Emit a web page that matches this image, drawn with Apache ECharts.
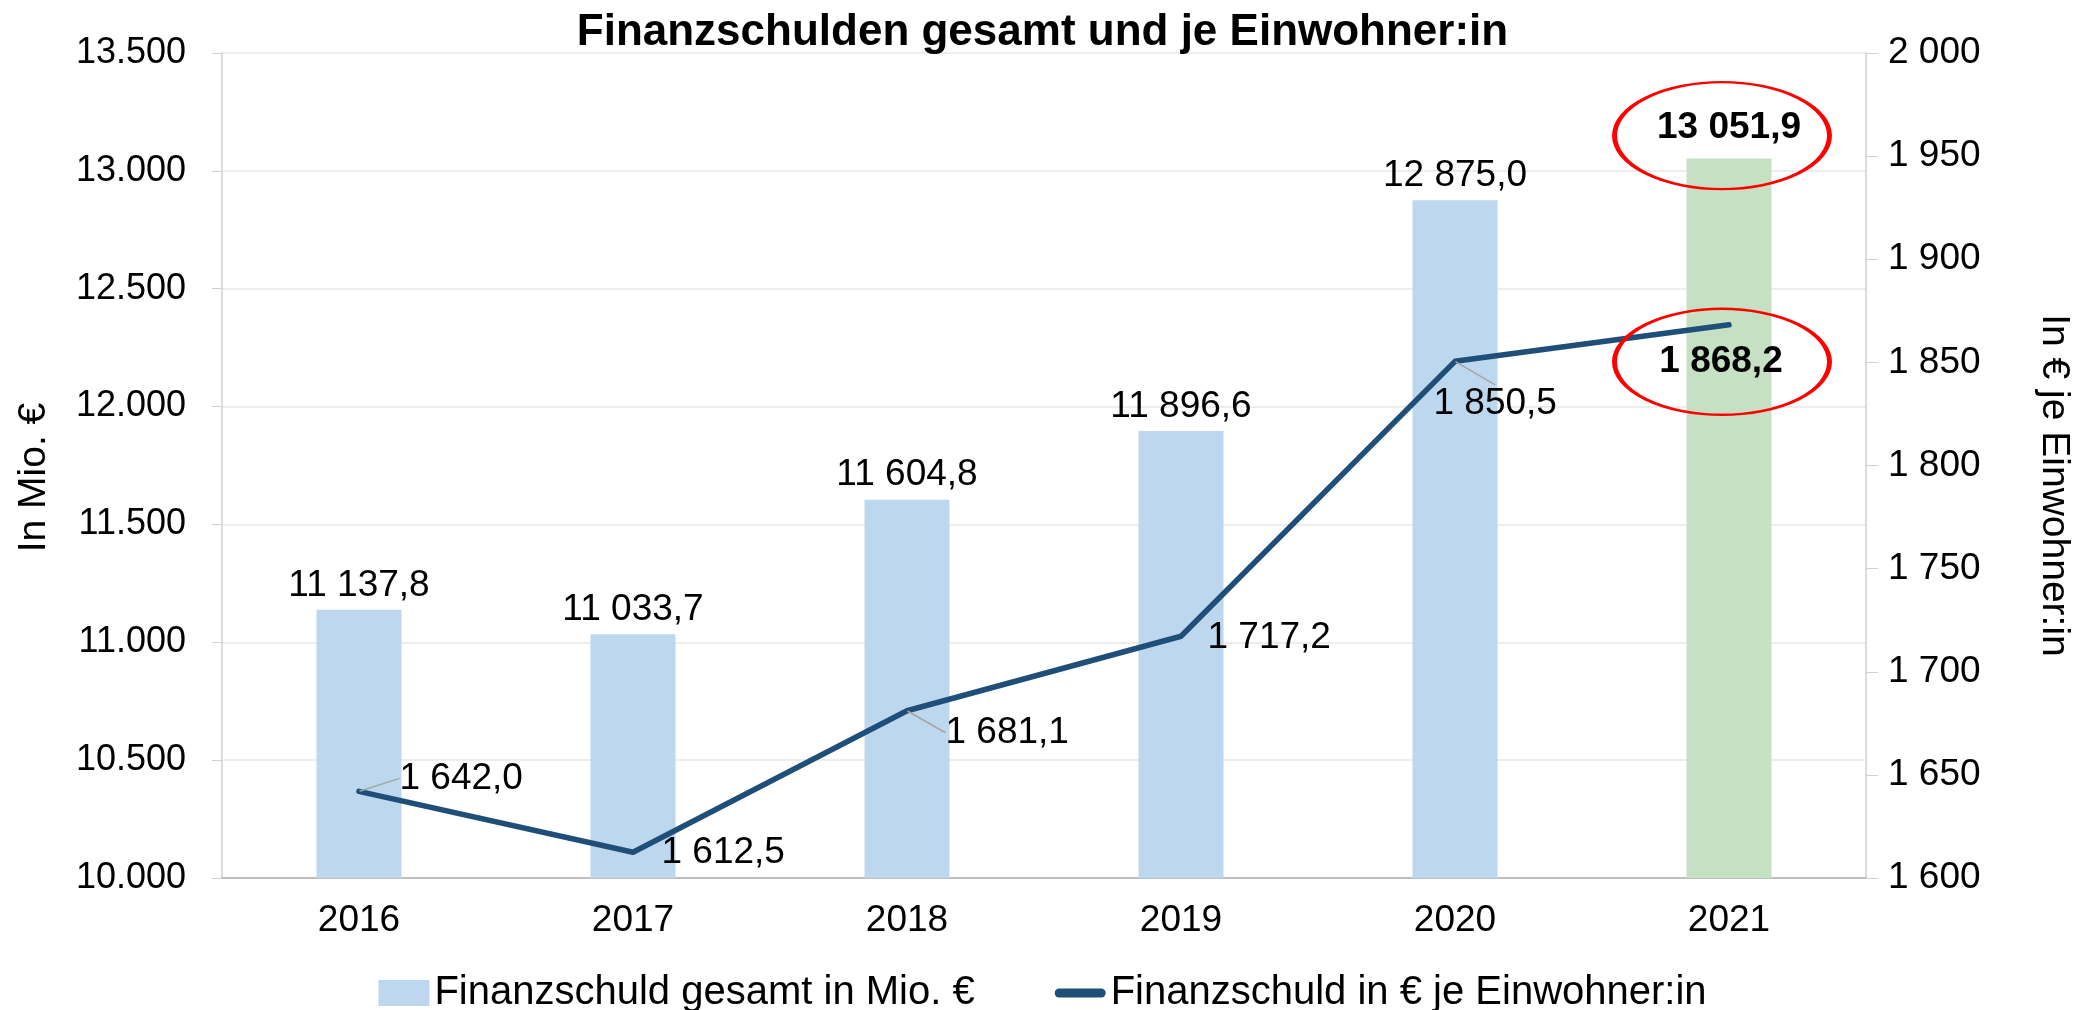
<!DOCTYPE html>
<html>
<head>
<meta charset="utf-8">
<script src="https://cdn.jsdelivr.net/npm/echarts@6/dist/echarts.min.js"></script>
<style>
html,body{margin:0;padding:0;background:#fff;}
#chart{width:2085px;height:1010px;}
</style>
</head>
<body>
<div id="chart"></div>
<script>
const categories = ['2016', '2017', '2018', '2019', '2020', '2021'];
const totalDebt = [11137.8, 11033.7, 11604.8, 11896.6, 12875.0, 13051.9];
const debtPerCapita = [1642.0, 1612.5, 1681.1, 1717.2, 1850.5, 1868.2];
const seriesNames = ['Finanzschuld gesamt in Mio. €', 'Finanzschuld in € je Einwohner:in'];
const titleText = 'Finanzschulden gesamt und je Einwohner:in';
const leftAxisName = 'In Mio. €';
const rightAxisName = 'In € je Einwohner:in';

const FONT = 'Liberation Sans';

function groupThousands(intStr, sep) {
  return intStr.replace(/\B(?=(\d{3})+(?!\d))/g, sep);
}
function fmtValue(v) {
  const parts = v.toFixed(1).split('.');
  return groupThousands(parts[0], ' ') + ',' + parts[1];
}

const lastIdx = categories.length - 1;
const lineLabelShift = [[35, -13], [23, 1], [33, 22], [21, 2], [-27, 42], [-8, 13]];
const withLeader = [true, false, true, false, true, false];

const barData = totalDebt.map((v, i) => {
  const item = { value: v };
  if (i === lastIdx) {
    item.itemStyle = { color: '#C5E0C3' };
    item.label = { fontWeight: 'bold', distance: 12 };
  }
  return item;
});

const lineData = debtPerCapita.map((v, i) => {
  const item = { value: v, labelLine: { show: withLeader[i] } };
  if (i === lastIdx) {
    item.label = { position: 'bottom', fontWeight: 'bold' };
  }
  return item;
});

const chart = echarts.init(document.getElementById('chart'), null, { renderer: 'canvas' });
chart.setOption({
  animation: false,
  backgroundColor: '#ffffff',
  textStyle: { fontFamily: FONT },
  title: {
    text: titleText,
    left: 'center',
    top: 6,
    textStyle: { fontFamily: FONT, fontSize: 44, fontWeight: 'bold', color: '#000' }
  },
  grid: { left: 222, right: 219, top: 53, bottom: 132 },
  legend: {
    bottom: -8,
    left: 'center',
    padding: [5, 5, 5, 33],
    itemGap: 80,
    itemWidth: 51,
    itemHeight: 26,
    textStyle: { fontFamily: FONT, fontSize: 40, color: '#000', padding: [0, 0, 0, 0] },
    data: [
      { name: seriesNames[0], icon: 'rect' },
      { name: seriesNames[1], icon: 'path://M4.5,0 H46.5 A4.5,4.5 0 0 1 46.5,9 H4.5 A4.5,4.5 0 0 1 4.5,0 Z' }
    ]
  },
  xAxis: {
    type: 'category',
    data: categories,
    axisLine: { lineStyle: { color: '#BFBFBF', width: 2 } },
    axisTick: { show: false },
    axisLabel: { fontFamily: FONT, fontSize: 37, color: '#000', margin: 24 }
  },
  yAxis: [
    {
      type: 'value',
      min: 10000, max: 13500, interval: 500,
      axisLine: { show: true, lineStyle: { color: '#D0D0D0', width: 1.5 } },
      axisTick: { show: true, length: 10, lineStyle: { color: '#D0D0D0' } },
      axisLabel: {
        fontFamily: FONT, fontSize: 36, color: '#000', margin: 36,
        formatter: v => groupThousands(String(v), '.')
      },
      splitLine: { lineStyle: { color: '#EDEDED', width: 2 } },
      name: leftAxisName,
      nameLocation: 'middle',
      nameGap: 168,
      nameTextStyle: { fontFamily: FONT, fontSize: 39, color: '#000', padding: [0, 24, 0, 0] }
    },
    {
      type: 'value',
      min: 1600, max: 2000, interval: 50,
      axisLine: { show: true, lineStyle: { color: '#D0D0D0', width: 1.5 } },
      axisTick: { show: true, length: 12, lineStyle: { color: '#D0D0D0' } },
      axisLabel: {
        fontFamily: FONT, fontSize: 37, color: '#000', margin: 22,
        formatter: v => groupThousands(String(v), ' ')
      },
      splitLine: { show: false },
      name: rightAxisName,
      nameLocation: 'middle',
      nameRotate: -90,
      nameGap: 168,
      nameTextStyle: { fontFamily: FONT, fontSize: 39, color: '#000', padding: [0, 0, 0, 40] }
    }
  ],
  series: [
    {
      name: seriesNames[0],
      type: 'bar',
      yAxisIndex: 0,
      barWidth: 85,
      data: barData,
      itemStyle: { color: '#BDD7EE' },
      label: {
        show: true, position: 'top', distance: 6,
        fontFamily: FONT, fontSize: 37, color: '#000',
        formatter: p => fmtValue(p.value)
      },
      markPoint: {
        silent: true,
        data: [{
          coord: [categories[lastIdx], totalDebt[lastIdx]],
          symbol: 'circle',
          symbolSize: [215, 107],
          symbolOffset: [-7, -23],
          itemStyle: { color: 'rgba(0,0,0,0)', borderColor: '#FF0000', borderWidth: 3.5 },
          label: { show: false }
        }]
      },
      z: 2
    },
    {
      name: seriesNames[1],
      type: 'line',
      yAxisIndex: 1,
      data: lineData,
      symbol: 'circle',
      symbolSize: 1,
      showSymbol: true,
      itemStyle: { color: '#1F4E79' },
      lineStyle: { color: '#1F4E79', width: 5.5, cap: 'round', join: 'round' },
      label: {
        show: true, position: 'right', distance: 5,
        fontFamily: FONT, fontSize: 37, color: '#000',
        formatter: p => fmtValue(p.value)
      },
      labelLine: { show: false, lineStyle: { color: '#A6A6A6', width: 1.5 } },
      labelLayout: p => ({ dx: lineLabelShift[p.dataIndex][0], dy: lineLabelShift[p.dataIndex][1] }),
      markPoint: {
        silent: true,
        data: [{
          coord: [categories[lastIdx], debtPerCapita[lastIdx]],
          symbol: 'circle',
          symbolSize: [215, 106],
          symbolOffset: [-7, 37],
          itemStyle: { color: 'rgba(0,0,0,0)', borderColor: '#FF0000', borderWidth: 3.5 },
          label: { show: false }
        }]
      },
      z: 3
    }
  ]
});
</script>
</body>
</html>
